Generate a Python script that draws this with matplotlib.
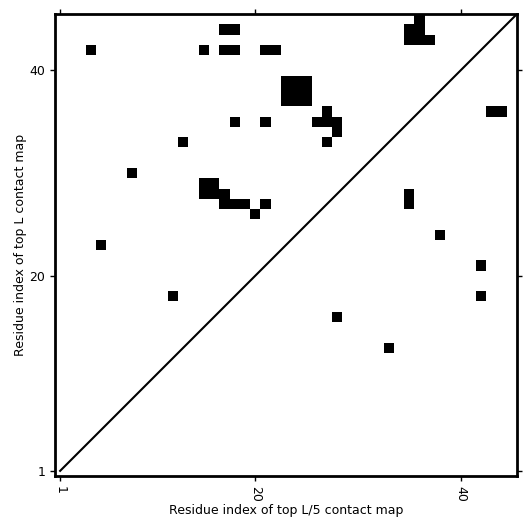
import numpy as np
import matplotlib
matplotlib.use("Agg")
import matplotlib.pyplot as plt

plt.rcParams["font.family"] = "DejaVu Sans"
plt.rcParams["font.size"] = 9
plt.rcParams["axes.linewidth"] = 2.0
plt.rcParams["xtick.major.size"] = 3.5
plt.rcParams["ytick.major.size"] = 3.5
plt.rcParams["xtick.major.width"] = 1.0
plt.rcParams["ytick.major.width"] = 1.0

L = 45

# top L contacts (upper-left triangle): residue i (x), residue j (y)
top_L_i = [17, 18, 4, 15, 17, 18, 21, 22,
           23, 24, 25, 23, 24, 25, 23, 24, 25,
           18, 21, 13, 8,
           15, 16, 15, 16, 17, 17, 18, 19, 21, 20,
           5, 12,
           27, 26, 27, 28, 28, 27,
           36, 35, 36, 35, 36, 37]
top_L_j = [44, 44, 42, 42, 42, 42, 42, 42,
           37, 37, 37, 38, 38, 38, 39, 39, 39,
           35, 35, 33, 30,
           28, 28, 29, 29, 28, 27, 27, 27, 27, 26,
           23, 18,
           36, 35, 35, 35, 34, 33,
           45, 44, 44, 43, 43, 43]

# top L/5 contacts (lower-right triangle)
top_L5_i = [35, 35, 38, 42, 42, 28, 33, 43, 44]
top_L5_j = [27, 28, 24, 21, 18, 16, 13, 36, 36]

tick_vals = [1, 20, 40]

cmap = np.zeros((L, L))
for i, j in zip(top_L_i, top_L_j):
    cmap[j - 1, i - 1] = 1
for i, j in zip(top_L5_i, top_L5_j):
    cmap[j - 1, i - 1] = 1

fig = plt.figure(figsize=(5.31, 5.31), dpi=100)
ax = fig.add_axes([55 / 531, 55 / 531, 462 / 531, 462 / 531])
ax.imshow(cmap, cmap="Greys", origin="lower", interpolation="nearest",
          extent=(0.5, L + 0.5, 0.5, L + 0.5), vmin=0, vmax=1, aspect="auto")
ax.plot([1, L + 1], [1, L + 1], color="black", linewidth=1.5)
ax.set_xlim(0.5, L + 0.5)
ax.set_ylim(0.5, L + 0.5)

ax.set_xticks(tick_vals)
ax.set_xticklabels([str(t) for t in tick_vals], rotation=270)
ax.set_yticks(tick_vals)
ax.tick_params(top=True, right=True)

ax.set_xlabel("Residue index of top L/5 contact map", labelpad=2)
ax.set_ylabel("Residue index of top L contact map", labelpad=1.5)

plt.savefig("out.png", dpi=100)
